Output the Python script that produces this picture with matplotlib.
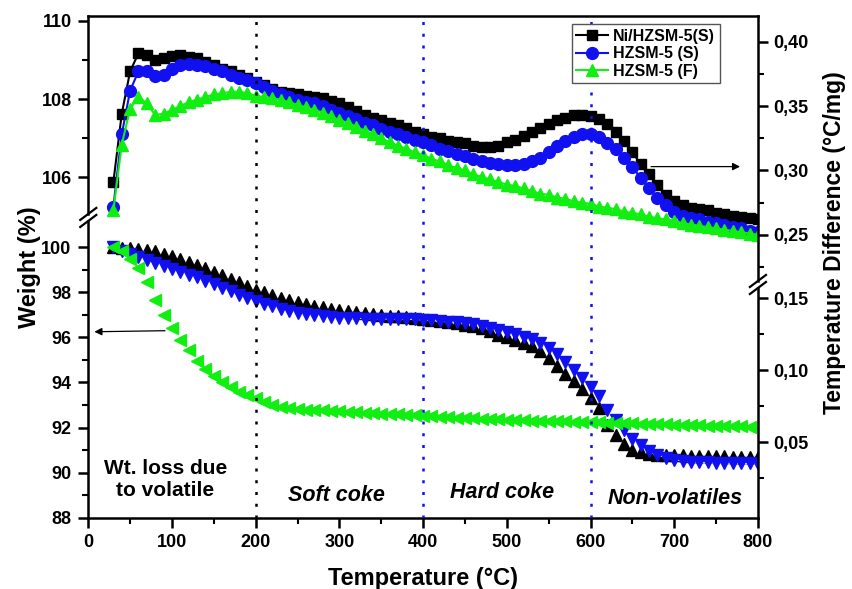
import matplotlib
matplotlib.use("Agg")
import matplotlib.pyplot as plt

plt.rcParams['font.family'] = ['Liberation Sans', 'DejaVu Sans']
plt.rcParams['font.weight'] = 'bold'
plt.rcParams['axes.labelweight'] = 'bold'

# temperature grid (deg C)
temp = [30, 40, 50, 60, 70, 80, 90, 100, 110, 120,
        130, 140, 150, 160, 170, 180, 190, 200, 210, 220,
        230, 240, 250, 260, 270, 280, 290, 300, 310, 320,
        330, 340, 350, 360, 370, 380, 390, 400, 410, 420,
        430, 440, 450, 460, 470, 480, 490, 500, 510, 520,
        530, 540, 550, 560, 570, 580, 590, 600, 610, 620,
        630, 640, 650, 660, 670, 680, 690, 700, 710, 720,
        730, 740, 750, 760, 770, 780, 790, 800]

# DTA curves (right axis, degC/mg)
dta_ni = [0.291, 0.344, 0.377, 0.391, 0.390, 0.386, 0.387, 0.389, 0.390, 0.388,
          0.387, 0.384, 0.382, 0.379, 0.377, 0.374, 0.372, 0.369, 0.366, 0.363,
          0.361, 0.360, 0.359, 0.358, 0.357, 0.356, 0.354, 0.352, 0.349, 0.346,
          0.343, 0.341, 0.339, 0.337, 0.335, 0.333, 0.330, 0.328, 0.326, 0.325,
          0.323, 0.322, 0.321, 0.319, 0.318, 0.318, 0.319, 0.322, 0.324, 0.327,
          0.330, 0.333, 0.336, 0.339, 0.341, 0.343, 0.343, 0.342, 0.340, 0.336,
          0.330, 0.323, 0.314, 0.305, 0.297, 0.289, 0.281, 0.276, 0.273, 0.271,
          0.270, 0.269, 0.267, 0.266, 0.265, 0.264, 0.263, 0.262]
dta_hs = [0.272, 0.328, 0.362, 0.377, 0.377, 0.373, 0.374, 0.379, 0.382, 0.383,
          0.382, 0.381, 0.379, 0.377, 0.374, 0.372, 0.370, 0.368, 0.365, 0.362,
          0.359, 0.357, 0.355, 0.353, 0.352, 0.350, 0.347, 0.345, 0.342, 0.340,
          0.337, 0.335, 0.332, 0.330, 0.328, 0.326, 0.324, 0.322, 0.320, 0.317,
          0.315, 0.313, 0.311, 0.309, 0.307, 0.306, 0.305, 0.304, 0.304, 0.305,
          0.307, 0.310, 0.314, 0.319, 0.323, 0.326, 0.328, 0.328, 0.326, 0.321,
          0.317, 0.310, 0.303, 0.294, 0.286, 0.279, 0.273, 0.268, 0.265, 0.263,
          0.262, 0.260, 0.259, 0.258, 0.256, 0.255, 0.253, 0.252]
dta_hf = [0.269, 0.320, 0.348, 0.357, 0.352, 0.343, 0.344, 0.347, 0.350, 0.353,
          0.355, 0.357, 0.359, 0.360, 0.361, 0.361, 0.360, 0.358, 0.357, 0.356,
          0.355, 0.353, 0.351, 0.349, 0.347, 0.345, 0.342, 0.339, 0.337, 0.334,
          0.331, 0.328, 0.325, 0.322, 0.319, 0.317, 0.314, 0.312, 0.309, 0.307,
          0.304, 0.302, 0.300, 0.297, 0.295, 0.293, 0.291, 0.289, 0.288, 0.286,
          0.284, 0.282, 0.281, 0.279, 0.278, 0.276, 0.275, 0.274, 0.272, 0.271,
          0.270, 0.268, 0.267, 0.266, 0.264, 0.263, 0.262, 0.261, 0.259, 0.258,
          0.257, 0.256, 0.255, 0.254, 0.253, 0.252, 0.251, 0.250]

# TGA curves (left axis, weight %)
tga_ni = [100.0, 99.98, 99.95, 99.92, 99.88, 99.83, 99.72, 99.62, 99.50, 99.36,
          99.21, 99.06, 98.90, 98.75, 98.59, 98.44, 98.28, 98.12, 98.00, 97.88,
          97.76, 97.66, 97.57, 97.48, 97.40, 97.34, 97.28, 97.22, 97.17, 97.13,
          97.09, 97.05, 97.01, 96.97, 96.93, 96.89, 96.85, 96.81, 96.77, 96.72,
          96.67, 96.62, 96.56, 96.50, 96.40, 96.28, 96.12, 96.00, 95.88, 95.75,
          95.60, 95.38, 95.10, 94.75, 94.38, 94.05, 93.72, 93.30, 92.85, 92.10,
          91.65, 91.25, 91.02, 90.90, 90.83, 90.80, 90.78, 90.77, 90.76, 90.75,
          90.74, 90.73, 90.72, 90.72, 90.71, 90.71, 90.70, 90.70]
tga_hs = [100.0, 99.85, 99.70, 99.55, 99.42, 99.30, 99.16, 99.04, 98.92, 98.79,
          98.66, 98.50, 98.35, 98.20, 98.05, 97.90, 97.75, 97.62, 97.50, 97.38,
          97.27, 97.18, 97.10, 97.04, 96.98, 96.93, 96.90, 96.88, 96.86, 96.85,
          96.84, 96.83, 96.83, 96.82, 96.82, 96.81, 96.80, 96.78, 96.76, 96.73,
          96.70, 96.68, 96.65, 96.60, 96.52, 96.44, 96.35, 96.25, 96.15, 96.03,
          95.92, 95.75, 95.55, 95.25, 94.93, 94.55, 94.18, 93.80, 93.42, 92.80,
          92.35, 91.88, 91.50, 91.22, 90.95, 90.78, 90.67, 90.58, 90.52, 90.48,
          90.46, 90.45, 90.44, 90.43, 90.42, 90.41, 90.41, 90.40]
tga_hf = [100.0, 99.85, 99.50, 99.10, 98.45, 97.65, 97.00, 96.40, 95.90, 95.42,
          94.95, 94.60, 94.28, 94.00, 93.80, 93.60, 93.45, 93.30, 93.15, 93.02,
          92.93, 92.87, 92.83, 92.80, 92.78, 92.76, 92.74, 92.72, 92.70, 92.68,
          92.66, 92.64, 92.62, 92.60, 92.58, 92.56, 92.54, 92.52, 92.50, 92.48,
          92.46, 92.44, 92.43, 92.42, 92.40, 92.38, 92.37, 92.35, 92.34, 92.32,
          92.31, 92.30, 92.29, 92.28, 92.27, 92.26, 92.25, 92.24, 92.23, 92.22,
          92.21, 92.20, 92.18, 92.17, 92.16, 92.15, 92.14, 92.13, 92.12, 92.11,
          92.10, 92.09, 92.08, 92.07, 92.06, 92.05, 92.04, 92.03]

labels = ['Ni/HZSM-5(S)', 'HZSM-5 (S)', 'HZSM-5 (F)']
left_lo_ticks = [88, 90, 92, 94, 96, 98, 100]
left_hi_ticks = [106, 108, 110]
right_hi_ticks = [0.25, 0.30, 0.35, 0.40]
right_hi_labels = ['0,25', '0,30', '0,35', '0,40']
right_lo_ticks = [0.05, 0.10, 0.15]
right_lo_labels = ['0,05', '0,10', '0,15']

BLACK = '#000000'
BLUE = '#1010f0'
GREEN = '#11ee11'
LW = 1.8
TICK_FS = 13

fig = plt.figure(figsize=(8.52, 5.89), dpi=100)
rect = [0.1036, 0.1211, 0.7860, 0.8518]
ax = fig.add_axes(rect)      # TGA / left lower scale
ax_u = fig.add_axes(rect)    # left upper scale
ax_r1 = fig.add_axes(rect)   # DTA / right upper scale
ax_r2 = fig.add_axes(rect)   # right lower scale

for a in (ax, ax_u, ax_r1, ax_r2):
    a.set_xlim(0, 800)
    for s in a.spines.values():
        s.set_linewidth(LW)
for a in (ax_u, ax_r1, ax_r2):
    a.patch.set_visible(False)
    a.spines['top'].set_visible(False)
    a.spines['bottom'].set_visible(False)
    a.tick_params(axis='x', which='both', bottom=False, labelbottom=False)

# main axes: x axis, top frame, left lower scale
ax.set_ylim(88, 110.268)
ax.spines['right'].set_visible(False)
ax.spines['left'].set_bounds(88, 101.17)
ax.set_xticks(range(0, 801, 100))
ax.set_xticks(range(50, 800, 100), minor=True)
ax.set_yticks(left_lo_ticks)
ax.set_yticks([89, 91, 93, 95, 97, 99], minor=True)
ax.tick_params(which='major', direction='out', length=7, width=LW, labelsize=TICK_FS, pad=5, top=False, right=False)
ax.tick_params(which='minor', direction='out', length=4, width=1.5, top=False, right=False)

# left upper scale
ax_u.set_ylim(97.32, 110.12)
ax_u.spines['right'].set_visible(False)
ax_u.spines['left'].set_bounds(105.06, 110.12)
ax_u.set_yticks(left_hi_ticks)
ax_u.set_yticks([107, 109], minor=True)
ax_u.tick_params(axis='y', which='major', direction='out', length=7, width=LW, labelsize=TICK_FS, pad=5)
ax_u.tick_params(axis='y', which='minor', direction='out', length=4, width=1.5)

# right scales
for a, lim, bnd, tk, tl, mn in (
        (ax_r1, (0.03044, 0.41995), (0.2143, 0.41995), right_hi_ticks, right_hi_labels, [0.225, 0.275, 0.325, 0.375]),
        (ax_r2, (-0.00236, 0.34604), (-0.00236, 0.1572), right_lo_ticks, right_lo_labels, [0.025, 0.075, 0.125])):
    a.set_ylim(*lim)
    a.spines['left'].set_visible(False)
    a.spines['right'].set_bounds(*bnd)
    a.yaxis.tick_right()
    a.set_yticks(tk)
    a.set_yticklabels(tl)
    a.set_yticks(mn, minor=True)
    a.tick_params(axis='y', which='major', direction='out', length=7, width=LW, labelsize=TICK_FS, pad=4)
    a.tick_params(axis='y', which='minor', direction='out', length=4, width=1.5)

# TGA markers
ax.plot(temp, tga_ni, ls='none', marker='^', ms=8.5, color=BLACK, mec=BLACK)
ax.plot(temp, tga_hs, ls='-', lw=1.0, color='white', marker='v', ms=8.5, mfc=BLUE, mec=BLUE)
ax.plot(temp, tga_hf, ls='none', marker='<', ms=8.5, color=GREEN, mec=GREEN)

# DTA lines
h1, = ax_r1.plot(temp, dta_ni, '-', lw=1.5, marker='s', ms=7.5, color=BLACK)
h2, = ax_r1.plot(temp, dta_hs, '-', lw=1.5, marker='o', ms=8.5, color=BLUE)
h3, = ax_r1.plot(temp, dta_hf, '-', lw=1.5, marker='^', ms=8.5, color=GREEN)

# region separators
ax_r2.axvline(200, color=BLACK, ls=(0, (1.2, 3.5)), lw=1.8)
ax_r2.axvline(400, color=BLUE, ls=(0, (1.2, 3.5)), lw=1.8)
ax_r2.axvline(600, color=BLUE, ls=(0, (1.2, 3.5)), lw=1.8)

ax.text(92, 89.7, 'Wt. loss due\nto volatile', ha='center', va='center', fontsize=15, linespacing=1.2)
ax.text(297, 89.0, 'Soft coke', ha='center', va='center', fontsize=15.5, style='italic')
ax.text(494, 89.1, 'Hard coke', ha='center', va='center', fontsize=15.5, style='italic')
ax.text(701, 88.87, 'Non-volatiles', ha='center', va='center', fontsize=15.5, style='italic')

ax.annotate('', xy=(4, 96.25), xytext=(95, 96.3),
            arrowprops=dict(arrowstyle='-|>', color='k', lw=0.9, mutation_scale=11))
ax_r1.annotate('', xy=(782, 0.303), xytext=(669, 0.303),
               arrowprops=dict(arrowstyle='-|>', color='k', lw=0.9, mutation_scale=11))

# axis breaks
def brk(a, x, y):
    for off in (-0.007, 0.007):
        a.plot([x - 0.012, x + 0.012], [y + off - 0.012, y + off + 0.012], color='k',
               lw=1.6, transform=a.transAxes, clip_on=False)

brk(ax_r2, 0.0, 0.5984)
brk(ax_r2, 1.0, 0.4648)

ax.set_xlabel('Temperature (°C)', fontsize=17, labelpad=11)
ax.set_ylabel('Weight (%)', fontsize=17)
ax.yaxis.set_label_coords(-0.071, 0.5)
ax_r1.yaxis.set_label_position('right')
ax_r1.set_ylabel('Temperature Difference (°C/mg)', fontsize=16.5, rotation=90)
ax_r1.yaxis.set_label_coords(1.097, 0.5475)

leg = ax_r2.legend([h1, h2, h3], labels, loc='upper right', bbox_to_anchor=(0.943, 0.984),
                   fontsize=11.5, frameon=True, fancybox=False, framealpha=1, edgecolor='#555555',
                   handlelength=2.0, borderpad=0.3, labelspacing=0.15, handletextpad=0.3,
                   borderaxespad=0)
leg.get_frame().set_linewidth(1.0)

fig.savefig('out.png', dpi=100)
